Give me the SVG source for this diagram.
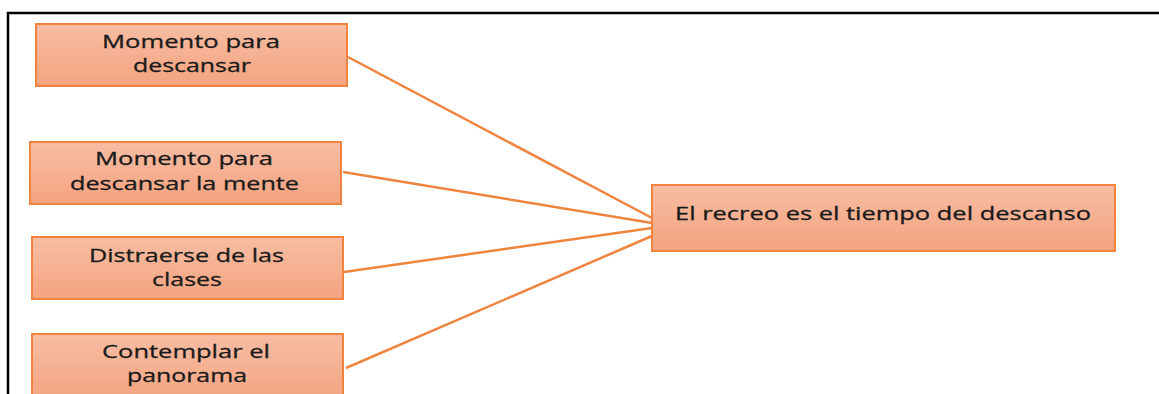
<svg xmlns="http://www.w3.org/2000/svg" width="1159" height="394" viewBox="0 0 1159 394">
<defs>
<linearGradient id="g" x1="0" y1="0" x2="0" y2="1">
<stop offset="0" stop-color="#f7bda3"/>
<stop offset="1" stop-color="#f4a37f"/>
</linearGradient>
<style>
.box{fill:url(#g);stroke:#f0843f;stroke-width:2}
.t{font-family:"Open Sans","Liberation Sans",sans-serif;font-size:19px;fill:#1a1a1a;stroke:#1a1a1a;stroke-width:0.3;text-anchor:middle}
.c{stroke:#ef8440;stroke-width:2.5;fill:none}
</style>
</defs>
<rect width="1159" height="394" fill="#fff"/>
<path d="M8 394 V13 H1159" fill="none" stroke="#000" stroke-width="2.5"/>
<g id="connectors">
<line class="c" x1="348" y1="57" x2="652" y2="218"/>
<line class="c" x1="343" y1="172" x2="652" y2="223"/>
<line class="c" x1="344" y1="272" x2="652" y2="228"/>
<line class="c" x1="346" y1="368" x2="652" y2="236"/>
</g>
<g id="n1"><rect class="box" x="36" y="24" width="311" height="62"/>
<text class="t" x="191" y="48" textLength="178" lengthAdjust="spacingAndGlyphs">Momento para</text><text class="t" x="192" y="72" textLength="118" lengthAdjust="spacingAndGlyphs">descansar</text></g>
<g id="n2"><rect class="box" x="30" y="142" width="311" height="62"/>
<text class="t" x="184" y="165" textLength="178" lengthAdjust="spacingAndGlyphs">Momento para</text><text class="t" x="184.5" y="190" textLength="229" lengthAdjust="spacingAndGlyphs">descansar la mente</text></g>
<g id="n3"><rect class="box" x="32" y="237" width="311" height="62"/>
<text class="t" x="186.5" y="262" textLength="195" lengthAdjust="spacingAndGlyphs">Distraerse de las</text><text class="t" x="187" y="286" textLength="70" lengthAdjust="spacingAndGlyphs">clases</text></g>
<g id="n4"><rect class="box" x="32" y="334" width="311" height="70"/>
<text class="t" x="186" y="358" textLength="168" lengthAdjust="spacingAndGlyphs">Contemplar el</text><text class="t" x="187" y="382" textLength="120" lengthAdjust="spacingAndGlyphs">panorama</text></g>
<g id="n5"><rect class="box" x="652" y="185" width="463" height="66"/>
<text class="t" x="883" y="220" textLength="416" lengthAdjust="spacingAndGlyphs">El recreo es el tiempo del descanso</text></g>
</svg>
